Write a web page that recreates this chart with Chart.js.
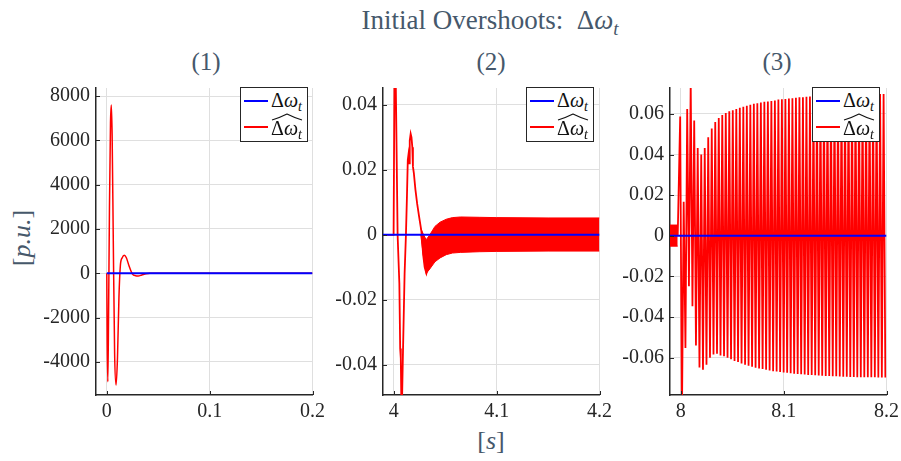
<!DOCTYPE html>
<html>
<head>
<meta charset="utf-8">
<script src="https://cdn.jsdelivr.net/npm/chart.js@4.4.0/dist/chart.umd.min.js"></script>
<style>
  body { margin: 0; width: 901px; height: 461px; background: #fff; position: relative; overflow: hidden; font-family: 'Liberation Serif', 'DejaVu Serif', serif; }
  canvas { position: absolute; top: 70px; }
  .txt { position: absolute; white-space: nowrap; line-height: 1; color: #46586b; }
  .txt sub, .lab sub { font-size: 0.7em; vertical-align: -0.3em; font-style: italic; }
  .legend { position: absolute; width: 66px; height: 53px; border: 1px solid #262626; background: #fff; top: 87px; }
  .row { position: absolute; left: 2px; height: 26px; width: 64px; }
  .swatch { position: absolute; left: 1px; top: 12px; width: 24px; height: 2px; }
  .lab { position: absolute; left: 28px; top: 2px; font-size: 20px; line-height: 1; color: #111; }
  .hat { position: absolute; left: 28px; top: -1px; }
</style>
</head>
<body>
<div class="txt" id="title" style="font-size:27px; left:490px; top:7px; transform:translateX(-50%);">Initial Overshoots: &nbsp;Δ<i>ω</i><sub>t</sub></div>
<div class="txt" style="font-size:25px; left:206px; top:49px; transform:translateX(-50%);">(1)</div>
<div class="txt" style="font-size:25px; left:491px; top:49px; transform:translateX(-50%);">(2)</div>
<div class="txt" style="font-size:25px; left:777px; top:49px; transform:translateX(-50%);">(3)</div>
<div class="txt" style="font-size:26px; left:22px; top:238px; transform:translate(-50%,-50%) rotate(-90deg);">[<i>p.u.</i>]</div>
<div class="txt" style="font-size:26px; left:491px; top:441px; transform:translate(-50%,-50%);">[<i>s</i>]</div>

<canvas id="c1" width="294" height="360" style="left:36px"></canvas>
<canvas id="c2" width="294" height="360" style="left:323px"></canvas>
<canvas id="c3" width="294" height="360" style="left:610px"></canvas>

<script>
// panel (1): start of simulation
const p1Time = [0, 0.0004, 0.001, 0.0017, 0.0026, 0.0036, 0.0044, 0.0052, 0.0063, 0.0076, 0.0090, 0.0104, 0.0118, 0.0132, 0.0150, 0.0170, 0.0190, 0.0215, 0.0250, 0.0280, 0.0305, 0.0340, 0.0380, 0.0420, 0.0500, 0.2000];
const p1Red = [0, -3200, -4900, -2000, 3000, 6800, 7600, 6200, 1500, -3600, -5050, -3800, -1100, 350, 700, 810, 700, 350, -40, -110, -120, -80, -25, 0, 0, 0];
const p1XTicks = [0, 0.1, 0.2];
const p1YTicks = [-4000, -2000, 0, 2000, 4000, 6000, 8000];

// panel (2): step at t = 4 s
const p2Time = [3.99, 3.9998, 4.0009, 4.0020, 4.0037, 4.0054, 4.0062, 4.0068, 4.0076, 4.0088, 4.0105, 4.0118, 4.0128, 4.0136, 4.0142, 4.0148, 4.0155, 4.0164, 4.0172, 4.0180, 4.0186, 4.0195, 4.0210, 4.0227, 4.0246, 4.0269, 4.0285, 4.0300, 4.0317, 4.0335];
const p2Red = [0, 0, 0.062, 0.045, 0, -0.015, -0.035, -0.038, -0.058, -0.038, -0.012, 0, 0.012, 0.023, 0.0245, 0.022, 0.029, 0.0311, 0.030, 0.027, 0.021, 0.019, 0.014, 0.0096, 0.0056, 0.001, -0.006, -0.0099, -0.0119, -0.010];
// fast ripple drawn as a filled envelope
const p2BandTime = [4.0262, 4.0290, 4.0315, 4.0350, 4.0400, 4.0450, 4.0510, 4.0570, 4.0650, 4.0830, 4.1000, 4.1500, 4.2000];
const p2BandUpper = [0.002, 0.0, -0.0015, 0.0, 0.0026, 0.0039, 0.0048, 0.0053, 0.0055, 0.0054, 0.0053, 0.0052, 0.0052];
const p2BandLower = [0.0, -0.007, -0.0119, -0.0105, -0.0083, -0.0071, -0.0061, -0.0056, -0.0054, -0.0052, -0.0051, -0.0050, -0.0050];
const p2XTicks = [4, 4.1, 4.2];
const p2YTicks = [-0.04, -0.02, 0, 0.02, 0.04];

// panel (3): step at t = 8 s
const p3BandTime = [7.9895, 7.9970];
const p3BandUpper = [0.0053, 0.0053];
const p3BandLower = [-0.0051, -0.0051];
const p3FirstPeak = 7.9994;
const p3Period = 0.00341;
const p3Peaks = [0.0588, 0.0168, 0.0624, 0.076, 0.0568, 0.0432, 0.040, 0.0432, 0.0485, 0.0528,
  0.056, 0.058, 0.0595, 0.0605, 0.0613, 0.0619, 0.0624, 0.0631, 0.0636, 0.064,
  0.0645, 0.065, 0.0653, 0.0656, 0.066, 0.0662, 0.0664, 0.0667, 0.0671, 0.0672,
  0.0674, 0.0676, 0.0678, 0.068, 0.0682, 0.0683, 0.0685, 0.0686, 0.0687, 0.0688,
  0.0689, 0.069, 0.0691, 0.0692, 0.0693, 0.0693, 0.0694, 0.0694, 0.0695, 0.0695,
  0.0696, 0.0696, 0.0696, 0.0697, 0.0697, 0.0697, 0.0698, 0.0698, 0.0698];
const p3Troughs = [-0.09, -0.0552, -0.0248, -0.0347, -0.054, -0.0648, -0.066, -0.0635, -0.060, -0.0584,
  -0.0581, -0.059, -0.0593, -0.060, -0.0608, -0.0616, -0.0622, -0.0629, -0.0635, -0.064,
  -0.0645, -0.065, -0.0653, -0.0656, -0.066, -0.0663, -0.0667, -0.0668, -0.0671, -0.0673,
  -0.0675, -0.0677, -0.0679, -0.068, -0.0682, -0.0683, -0.0685, -0.0686, -0.0687, -0.0688,
  -0.0689, -0.069, -0.0691, -0.0692, -0.0692, -0.0693, -0.0694, -0.0694, -0.0695, -0.0695,
  -0.0696, -0.0696, -0.0696, -0.0697, -0.0697, -0.0697, -0.0698, -0.0698, -0.0698];
const p3XTicks = [8, 8.1, 8.2];
const p3YTicks = [-0.06, -0.04, -0.02, 0, 0.02, 0.04, 0.06];

const BLUE = '#0000ff';
const RED = '#ff0000';
const FONT = { family: "'Liberation Serif', 'DejaVu Serif', serif", size: 20 };

const pts = (xs, ys) => xs.map((x, i) => ({ x: x, y: ys[i] }));

// small tick marks pointing into the plot, like MATLAB axes
const innerTicks = {
  id: 'innerTicks',
  afterDraw(chart) {
    const { ctx, chartArea: a, scales: { x, y } } = chart;
    ctx.save();
    ctx.strokeStyle = '#262626';
    ctx.lineWidth = 1;
    ctx.beginPath();
    x.ticks.forEach(t => {
      const px = Math.round(x.getPixelForValue(t.value)) + 0.5;
      ctx.moveTo(px, a.bottom);
      ctx.lineTo(px, a.bottom - 4);
    });
    y.ticks.forEach(t => {
      const py = Math.round(y.getPixelForValue(t.value)) + 0.5;
      ctx.moveTo(a.left, py);
      ctx.lineTo(a.left + 4, py);
    });
    ctx.stroke();
    ctx.restore();
  }
};

function makePanel(id, xMin, xMax, yMin, yMax, xTicks, yTicks, datasets) {
  return new Chart(document.getElementById(id), {
    type: 'line',
    data: { datasets: datasets },
    options: {
      responsive: false,
      animation: false,
      layout: { padding: { top: 10, right: 15, left: 0, bottom: 0 } },
      plugins: { legend: { display: false }, tooltip: { enabled: false } },
      elements: { point: { radius: 0 } },
      scales: {
        x: {
          type: 'linear', min: xMin, max: xMax,
          afterBuildTicks: s => { s.ticks = xTicks.map(v => ({ value: v })); },
          afterFit: s => { s.height = 35; },
          grid: { color: '#dfdfdf', drawTicks: false },
          border: { color: '#262626', width: 1.5 },
          ticks: { font: FONT, color: '#262626', padding: 5, maxRotation: 0, callback: v => String(v) }
        },
        y: {
          min: yMin, max: yMax,
          afterBuildTicks: s => { s.ticks = yTicks.map(v => ({ value: v })); },
          afterFit: s => { s.width = 60; },
          grid: { color: '#dfdfdf', drawTicks: false },
          border: { color: '#262626', width: 1.5 },
          ticks: { font: FONT, color: '#262626', padding: 6, callback: v => String(v) }
        }
      }
    },
    plugins: [innerTicks]
  });
}

const blueLine = (x0, x1) => ({ data: [{ x: x0, y: 0 }, { x: x1, y: 0 }], borderColor: BLUE, borderWidth: 2, clip: 0 });
const redLine = (data, extra) => Object.assign({ data: data, borderColor: RED, borderWidth: 1.5, clip: 0 }, extra || {});

makePanel('c1', -0.0105, 0.2, -5500, 8370, p1XTicks, p1YTicks, [
  blueLine(0, 0.2),
  redLine(pts(p1Time, p1Red), { cubicInterpolationMode: 'monotone' })
]);

makePanel('c2', 3.9895, 4.2, -0.0493, 0.0452, p2XTicks, p2YTicks, [
  blueLine(3.9895, 4.2),
  redLine(pts(p2Time, p2Red), { borderWidth: 1.8 }),
  redLine(pts(p2BandTime, p2BandUpper), { fill: '+1', backgroundColor: RED, borderWidth: 1 }),
  redLine(pts(p2BandTime, p2BandLower), { borderWidth: 1 })
]);

const p3Spikes = [{ x: p3BandTime[1], y: 0 }];
p3Peaks.forEach((v, k) => {
  p3Spikes.push({ x: p3FirstPeak + k * p3Period, y: v });
  p3Spikes.push({ x: p3FirstPeak + (k + 0.5) * p3Period, y: p3Troughs[k] });
});

makePanel('c3', 7.9895, 8.2, -0.0784, 0.0728, p3XTicks, p3YTicks, [
  blueLine(7.9895, 8.2),
  redLine(p3Spikes, { borderWidth: 1.8 }),
  redLine(pts(p3BandTime, p3BandUpper), { fill: '+1', backgroundColor: RED, borderWidth: 1 }),
  redLine(pts(p3BandTime, p3BandLower), { borderWidth: 1 })
]);

// legends
const hatSvg = '<svg class="hat" width="32" height="8"><path d="M1 7 Q8 5 16 1 Q24 5 31 7" stroke="#111" stroke-width="1.1" fill="none"/></svg>';
[240, 526, 812].forEach(left => {
  const box = document.createElement('div');
  box.className = 'legend';
  box.style.left = left + 'px';
  box.innerHTML =
    '<div class="row" style="top:0px"><span class="swatch" style="background:' + BLUE + '"></span><span class="lab">Δ<i>ω</i><sub>t</sub></span></div>' +
    '<div class="row" style="top:26px"><span class="swatch" style="background:' + RED + '"></span>' + hatSvg + '<span class="lab" style="top:4px">Δ<i>ω</i><sub>t</sub></span></div>';
  document.body.appendChild(box);
});
</script>
</body>
</html>
